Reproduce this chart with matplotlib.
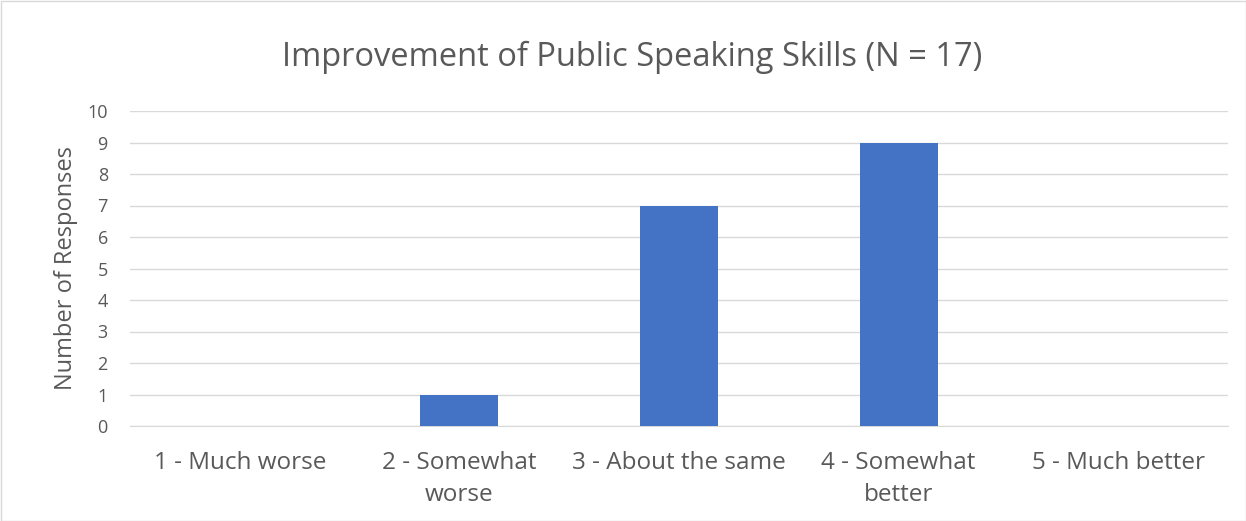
import matplotlib.pyplot as plt
import numpy as np

categories = ['1 - Much worse', '2 - Somewhat\nworse', '3 - About the same',
              '4 - Somewhat\nbetter', '5 - Much better']
responses = [0, 1, 7, 9, 0]
yticks = list(range(0, 11))

plt.rcParams['font.family'] = ['Open Sans', 'DejaVu Sans']
text_color = '#595959'

fig = plt.figure(figsize=(12.46, 5.21), dpi=100)
ax = fig.add_axes([130 / 1246, 1 - 426 / 521, 1098 / 1246, 315 / 521])

x = np.arange(len(categories))
ax.bar(x, responses, width=0.355, color='#4472C4', zorder=3)

ax.set_xlim(-0.5, len(categories) - 0.5)
ax.set_ylim(0, 10)
ax.set_yticks(yticks)
ax.set_xticks(x)
ax.set_xticklabels(categories, fontsize=17.5, color=text_color, linespacing=1.45)
ax.tick_params(axis='y', labelsize=13, colors=text_color, length=0, pad=16)
ax.tick_params(axis='x', length=0, pad=18)
ax.grid(axis='y', color='#d9d9d9', linewidth=1, zorder=0)

for side in ['top', 'right', 'left']:
    ax.spines[side].set_visible(False)
ax.spines['bottom'].set_color('#d9d9d9')

ax.set_ylabel('Number of Responses', fontsize=17, color=text_color, labelpad=7)
fig.text(632 / 1246, 1 - 57 / 521, 'Improvement of Public Speaking Skills (N = 17)',
         ha='center', va='center', fontsize=23.5, color=text_color)

# light chart border
border = plt.Rectangle((0.5 / 1246, 0.5 / 521), 1 - 1 / 1246, 1 - 1 / 521,
                       transform=fig.transFigure, fill=False,
                       edgecolor='#d9d9d9', linewidth=1)
fig.patches.append(border)

fig.savefig('out.png', dpi=100)
